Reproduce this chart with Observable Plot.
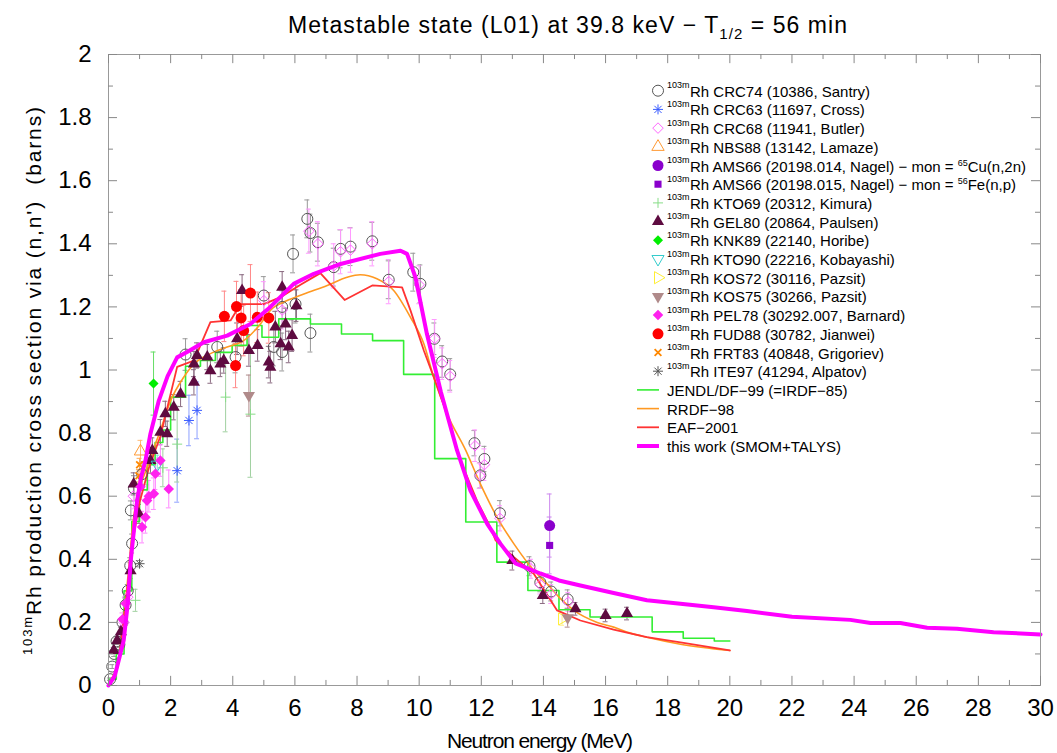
<!DOCTYPE html>
<html><head><meta charset="utf-8">
<script src="https://cdn.jsdelivr.net/npm/d3@7"></script>
<script src="https://cdn.jsdelivr.net/npm/@observablehq/plot@0.6"></script>
<style>body{margin:0;background:#fff}#chart{width:1057px;height:753px}</style>
</head><body><div id="chart"></div>
<script>
// ---- tick values ----
const xMajor = [0,2,4,6,8,10,12,14,16,18,20,22,24,26,28,30];
const xMinor = [1,3,5,7,9,11,13,15,17,19,21,23,25,27,29];
const yMajor = [0,0.2,0.4,0.6,0.8,1,1.2,1.4,1.6,1.8,2];
const yMinor = [0.1,0.3,0.5,0.7,0.9,1.1,1.3,1.5,1.7,1.9];

// ---- evaluated curves [E (MeV), sigma (b)] ----
const jendl = [[0,0.02],[0.25,0.1],[0.5,0.3],[0.75,0.52],[1.0,0.62],[1.25,0.7],[1.5,0.77],[1.75,0.81],[2.0,0.914],[2.48,1.012],[2.96,1.03],[3.44,1.056],[3.98,1.078],[4.46,1.141],[4.94,1.104],[5.48,1.162],[6.5,1.146],[7.5,1.114],[8.5,1.093],[9.5,0.986],[10.5,0.719],[11.5,0.518],[12.5,0.391],[13.5,0.301],[14.5,0.24],[15.5,0.217],[17.5,0.17],[18.5,0.15],[19.5,0.141],[20,0.141]];
const rrdf = [[0,0],[0.3,0.06],[0.6,0.32],[0.81,0.533],[1.24,0.692],[1.67,0.808],[2.0,0.903],[2.42,0.977],[2.75,1.019],[3.28,1.052],[3.82,1.073],[4.35,1.093],[4.89,1.146],[5.21,1.189],[5.75,1.22],[6.29,1.241],[7.04,1.268],[7.68,1.294],[8.1,1.302],[8.64,1.289],[9.18,1.252],[9.72,1.167],[10.15,1.083],[10.47,0.977],[10.9,0.861],[11.5,0.745],[11.97,0.639],[12.51,0.533],[13.05,0.449],[13.69,0.365],[14.12,0.322],[14.5,0.28],[14.98,0.238],[15.73,0.2],[16.26,0.185],[16.8,0.166],[17.33,0.153],[18.41,0.131],[20,0.111]];
const eaf = [[0,0],[0.3,0.06],[0.6,0.3],[0.8,0.47],[1.0,0.58],[1.3,0.69],[1.67,0.79],[2.21,1.01],[2.75,1.03],[3.28,1.152],[3.93,1.157],[4.25,1.209],[5.0,1.209],[5.54,1.231],[6.18,1.27],[6.82,1.307],[7.6,1.222],[8.49,1.268],[9.45,1.262],[9.72,1.189],[10.15,1.062],[10.47,0.977],[10.79,0.89],[11.33,0.713],[11.86,0.586],[12.29,0.502],[12.46,0.46],[13.05,0.407],[13.69,0.354],[14.44,0.238],[15.19,0.206],[16.26,0.177],[17.33,0.153],[18.41,0.137],[20,0.111]];
const thisWork = [[0,0],[0.2,0.03],[0.33,0.08],[0.49,0.143],[0.62,0.26],[0.72,0.4],[0.92,0.586],[1.05,0.66],[1.19,0.713],[1.35,0.798],[1.62,0.903],[1.9,0.98],[2.21,1.04],[2.53,1.057],[3.07,1.088],[3.82,1.109],[4.57,1.146],[5.21,1.2],[5.96,1.273],[6.61,1.305],[7.47,1.336],[8.75,1.368],[9.4,1.378],[9.61,1.368],[9.88,1.294],[10.25,1.114],[10.7,0.93],[11.22,0.745],[11.65,0.618],[12.19,0.512],[12.62,0.449],[13.1,0.387],[13.9,0.355],[14.5,0.333],[15.19,0.317],[16.26,0.293],[17.33,0.27],[18.41,0.259],[19.48,0.248],[20.55,0.236],[22,0.218],[23.88,0.208],[24.53,0.198],[25.49,0.198],[26.35,0.183],[27.31,0.18],[28.49,0.169],[30,0.162]];

// ---- experimental data [E, sigma, uncertainty] ----
const santry = [[0.05,0.02,0.004],[0.12,0.06,0.006],[0.18,0.1,0.008],[0.26,0.14,0.01],[0.35,0.13,0.01],[0.45,0.2,0.015],[0.55,0.255,0.02],[0.62,0.3,0.02],[0.7,0.38,0.025],[0.76,0.45,0.03],[0.72,0.555,0.03],[0.82,0.625,0.04],[1.08,0.67,0.04],[2.48,1.049,0.05],[3.5,1.073,0.05],[4.09,1.041,0.05],[5.0,1.236,0.06],[5.32,1.073,0.06],[5.59,1.057,0.06],[5.59,1.2,0.06],[6.02,1.209,0.06],[6.5,1.117,0.06],[5.94,1.368,0.06],[6.4,1.479,0.06],[6.5,1.434,0.06],[6.74,1.405,0.06],[7.25,1.326,0.06],[7.47,1.384,0.06],[7.79,1.391,0.06],[8.49,1.408,0.06],[9.02,1.286,0.06],[9.81,1.31,0.06],[10.04,1.273,0.06],[10.49,1.099,0.05],[10.74,1.027,0.05],[11.0,0.986,0.05],[11.78,0.768,0.04],[12.1,0.718,0.04],[11.97,0.666,0.04],[12.6,0.546,0.04],[13.55,0.378,0.03],[13.9,0.327,0.03],[14.25,0.298,0.03],[14.78,0.273,0.03]];
const cross = [[2.21,0.681,0.1],[2.59,0.84,0.08],[2.85,0.872,0.09]];
const butler = [[0.5,0.2,0.02],[0.62,0.28,0.02],[0.8,0.6,0.04],[5.0,1.22,0.06],[5.59,1.19,0.06],[6.45,1.44,0.07],[6.74,1.4,0.07],[7.25,1.33,0.07],[7.47,1.375,0.07],[7.79,1.38,0.07],[8.49,1.4,0.07],[9.02,1.28,0.07],[10.0,1.27,0.06],[10.5,1.1,0.06],[10.74,1.02,0.05],[11.0,0.98,0.05],[11.8,0.76,0.05],[12.1,0.7,0.05],[11.95,0.665,0.04],[12.6,0.53,0.04],[13.6,0.37,0.03],[13.9,0.32,0.03],[14.25,0.29,0.03],[14.8,0.265,0.03]];
const lamaze = [[1.03,0.742,0.035]];
const nagel014 = [[14.2,0.507,0.1]];
const nagel015 = [[14.2,0.444,0.09]];
const kimura = [[0.87,0.27,0.035],[1.75,0.69,0.06],[2.21,0.765,0.12],[3.77,0.914,0.11],[4.57,0.86,0.2]];
const paulsen = [[0.17,0.111,0.01],[0.28,0.143,0.012],[0.4,0.17,0.015],[0.71,0.364,0.025],[0.98,0.544,0.03],[0.81,0.639,0.035],[1.35,0.713,0.04],[1.41,0.745,0.04],[1.67,0.803,0.04],[1.83,0.861,0.04],[1.89,0.798,0.04],[2.1,0.882,0.04],[2.32,0.924,0.04],[2.75,0.961,0.04],[2.75,1.019,0.04],[2.85,1.046,0.04],[3.18,1.041,0.04],[3.28,0.998,0.04],[3.6,1.019,0.04],[3.71,1.03,0.04],[4.14,1.099,0.05],[4.3,1.252,0.05],[4.52,1.062,0.05],[4.8,1.078,0.05],[5.16,1.025,0.05],[5.21,1.009,0.05],[5.37,1.136,0.05],[5.54,1.083,0.05],[5.59,1.262,0.05],[5.7,1.146,0.05],[5.8,1.073,0.05],[5.91,1.109,0.05],[6.05,1.204,0.05],[13.0,0.396,0.03],[13.98,0.285,0.025],[15.03,0.243,0.02],[16.0,0.222,0.02],[16.69,0.228,0.02]];
const horibe = [[1.45,0.957,0.1]];
const kobayashi = [[1.57,0.7,0.03]];
const pazsit72 = [[14.6,0.211,0.02]];
const pazsit75 = [[4.52,0.919,0.065],[14.78,0.215,0.03]];
const barnard = [[0.45,0.21,0.02],[0.55,0.26,0.02],[1.08,0.502,0.05],[1.19,0.533,0.05],[1.24,0.586,0.05],[1.3,0.6,0.05],[1.46,0.608,0.05],[1.51,0.671,0.05],[1.67,0.713,0.05],[1.94,0.623,0.06],[1.03,0.63,0.04]];
const jianwei = [[3.73,1.17,0.08],[4.12,1.201,0.08],[4.27,1.165,0.09],[4.35,1.125,0.08],[4.57,1.244,0.09],[4.79,1.167,0.08],[5.16,1.165,0.08],[4.09,1.014,0.07]];
const grigoriev = [[1.0,0.7,0.02],[0.98,0.665,0.02]];
const alpatov = [[1.0,0.386,0.01]];

// ---- symbols ----
const s3 = Math.sqrt(3);
const symCircle = {draw(c,s){const r=Math.sqrt(s/Math.PI);c.moveTo(r,0);c.arc(0,0,r,0,2*Math.PI);}};
const symTriUp = {draw(c,s){const y=Math.sqrt(s/(3*s3));c.moveTo(0,-2*y);c.lineTo(-s3*y,y);c.lineTo(s3*y,y);c.closePath();}};
const symTriDown = {draw(c,s){const y=Math.sqrt(s/(3*s3));c.moveTo(0,2*y);c.lineTo(-s3*y,-y);c.lineTo(s3*y,-y);c.closePath();}};
const symTriRight = {draw(c,s){const y=Math.sqrt(s/(3*s3));c.moveTo(2*y,0);c.lineTo(-y,-s3*y);c.lineTo(-y,s3*y);c.closePath();}};
const symDiamond = {draw(c,s){const h=Math.sqrt(s/2);c.moveTo(0,-h);c.lineTo(h,0);c.lineTo(0,h);c.lineTo(-h,0);c.closePath();}};
const symSquare = {draw(c,s){const h=Math.sqrt(s)/2;c.rect(-h,-h,2*h,2*h);}};
const symPlus = {draw(c,s){const h=Math.sqrt(s/Math.PI);c.moveTo(-h,0);c.lineTo(h,0);c.moveTo(0,-h);c.lineTo(0,h);}};
const symTimes = {draw(c,s){const h=Math.sqrt(s/Math.PI)*0.75;c.moveTo(-h,-h);c.lineTo(h,h);c.moveTo(-h,h);c.lineTo(h,-h);}};
const symAster = {draw(c,s){const h=Math.sqrt(s/Math.PI),d=h*0.72;c.moveTo(-h,0);c.lineTo(h,0);c.moveTo(0,-h);c.lineTo(0,h);c.moveTo(-d,-d);c.lineTo(d,d);c.moveTo(-d,d);c.lineTo(d,-d);}};

const series = [
 {label:[["Rh CRC74 (10386, Santry)"]], data:santry, sym:symCircle, r:5.5, fill:"none", stroke:"#555", sw:1, err:"#999"},
 {label:[["Rh CRC63 (11697, Cross)"]], data:cross, sym:symAster, r:5, fill:"none", stroke:"#3a5cff", sw:1, err:"#8ea0ff"},
 {label:[["Rh CRC68 (11941, Butler)"]], data:butler, sym:symDiamond, r:4.2, fill:"none", stroke:"#ff66ff", sw:1, err:"#ff99ff"},
 {label:[["Rh NBS88 (13142, Lamaze)"]], data:lamaze, sym:symTriUp, r:4.6, fill:"none", stroke:"#ff9933", sw:1, err:"#ffbb77"},
 {label:[["Rh AMS66 (20198.014, Nagel) \u2212 mon = "],["65",1],["Cu(n,2n)"]], data:nagel014, sym:symCircle, r:5.5, fill:"#8a00cc", stroke:"none", sw:1, err:"#cc88ee"},
 {label:[["Rh AMS66 (20198.015, Nagel) \u2212 mon = "],["56",1],["Fe(n,p)"]], data:nagel015, sym:symSquare, r:4, fill:"#8a00cc", stroke:"none", sw:1, err:"#cc88ee"},
 {label:[["Rh KTO69 (20312, Kimura)"]], data:kimura, sym:symPlus, r:5, fill:"none", stroke:"#88dd88", sw:1, err:"#a0d0a0"},
 {label:[["Rh GEL80 (20864, Paulsen)"]], data:paulsen, sym:symTriUp, r:4.5, fill:"#5e0b40", stroke:"none", sw:1, err:"#8a6a80"},
 {label:[["Rh KNK89 (22140, Horibe)"]], data:horibe, sym:symDiamond, r:4, fill:"#00ee00", stroke:"none", sw:1, err:"#66dd66"},
 {label:[["Rh KTO90 (22216, Kobayashi)"]], data:kobayashi, sym:symTriDown, r:4.5, fill:"none", stroke:"#33cccc", sw:1, err:"#88dddd"},
 {label:[["Rh KOS72 (30116, Pazsit)"]], data:pazsit72, sym:symTriRight, r:4.5, fill:"none", stroke:"#ffee33", sw:1, err:"#ffee88"},
 {label:[["Rh KOS75 (30266, Pazsit)"]], data:pazsit75, sym:symTriDown, r:4.5, fill:"#b08a8a", stroke:"none", sw:1, err:"#b08a8a"},
 {label:[["Rh PEL78 (30292.007, Barnard)"]], data:barnard, sym:symDiamond, r:4.2, fill:"#ff22ee", stroke:"none", sw:1, err:"#ff88ff"},
 {label:[["Rh FUD88 (30782, Jianwei)"]], data:jianwei, sym:symCircle, r:5.5, fill:"#ff0000", stroke:"none", sw:1, err:"#ff8888"},
 {label:[["Rh FRT83 (40848, Grigoriev)"]], data:grigoriev, sym:symTimes, r:4.5, fill:"none", stroke:"#ff8800", sw:1.8, err:"#ffaa55"},
 {label:[["Rh ITE97 (41294, Alpatov)"]], data:alpatov, sym:symAster, r:5, fill:"none", stroke:"#555", sw:1, err:"#999"}
];
const curves = [
 {label:"JENDL/DF\u221299 (=IRDF\u221285)", data:jendl, stroke:"#33ee33", sw:1.6, curve:"step-after"},
 {label:"RRDF\u221298", data:rrdf, stroke:"#ff9922", sw:1.6, curve:"monotone-x"},
 {label:"EAF\u22122001", data:eaf, stroke:"#ff3333", sw:1.8, curve:"linear"},
 {label:"this work (SMOM+TALYS)", data:thisWork, stroke:"#ff00ff", sw:4, curve:"linear"}
];

const X = d=>d[0], Y = d=>d[1];
const marks = [];
for (const s of series) {
  marks.push(Plot.ruleX(s.data, {x:X, y1:d=>d[1]-d[2], y2:d=>d[1]+d[2], stroke:s.err, strokeWidth:1}));
  marks.push(Plot.ruleY(s.data, {y:d=>d[1]+d[2], x1:d=>d[0]-0.08, x2:d=>d[0]+0.08, stroke:s.err, strokeWidth:1}));
  marks.push(Plot.ruleY(s.data, {y:d=>d[1]-d[2], x1:d=>d[0]-0.08, x2:d=>d[0]+0.08, stroke:s.err, strokeWidth:1}));
}
for (const c of curves.slice(0,3)) marks.push(Plot.line(c.data, {x:X, y:Y, stroke:c.stroke, strokeWidth:c.sw, curve:c.curve}));
for (const s of series) marks.push(Plot.dot(s.data, {x:X, y:Y, symbol:s.sym, r:s.r, fill:s.fill, stroke:s.stroke, strokeWidth:s.sw}));
marks.push(Plot.line(curves[3].data, {x:X, y:Y, stroke:curves[3].stroke, strokeWidth:curves[3].sw, curve:curves[3].curve}));

const tc = "#888";
marks.push(
  Plot.frame({stroke:"#999", strokeWidth:1}),
  Plot.ruleX(xMajor, {x:d=>d, y1:0, y2:0.029, stroke:tc}),
  Plot.ruleX(xMajor, {x:d=>d, y1:2, y2:2-0.029, stroke:tc}),
  Plot.ruleX(xMinor, {x:d=>d, y1:0, y2:0.016, stroke:tc}),
  Plot.ruleX(xMinor, {x:d=>d, y1:2, y2:2-0.016, stroke:tc}),
  Plot.ruleY(yMajor, {y:d=>d, x1:0, x2:0.29, stroke:tc}),
  Plot.ruleY(yMajor, {y:d=>d, x1:30, x2:30-0.29, stroke:tc}),
  Plot.ruleY(yMinor, {y:d=>d, x1:0, x2:0.16, stroke:tc}),
  Plot.ruleY(yMinor, {y:d=>d, x1:30, x2:30-0.16, stroke:tc}),
  Plot.axisX(xMajor, {tickSize:0, tickPadding:13, fontSize:24, label:null, tickFormat:d=>String(d)}),
  Plot.axisY(yMajor, {tickSize:0, tickPadding:17, fontSize:24, label:null, tickFormat:d=>String(+d.toFixed(1))})
);

const FF = "'Liberation Sans', Arial, Helvetica, sans-serif";
const svgEl = Plot.plot({
  width:1057, height:753,
  marginLeft:108, marginRight:17, marginTop:54, marginBottom:68,
  x:{domain:[0,30]}, y:{domain:[0,2]},
  style:{fontFamily:FF, fontSize:"24px", color:"#000", background:"#fff", overflow:"visible"},
  marks
});
document.getElementById("chart").appendChild(svgEl);

const svg = d3.select(svgEl);
// title
const t = svg.append("text").attr("x",288).attr("y",33).attr("text-anchor","start")
  .attr("textLength",559).attr("lengthAdjust","spacing")
  .style("font-family",FF).style("font-size","23px").attr("fill","#000");
t.append("tspan").text("Metastable state (L01) at 39.8 keV \u2212 T");
t.append("tspan").attr("dy",6).style("font-size","15px").text("1/2");
t.append("tspan").attr("dy",-6).text(" = 56 min");
// x label
svg.append("text").attr("x",447).attr("y",748).attr("text-anchor","start")
  .attr("textLength",186).attr("lengthAdjust","spacing")
  .style("font-family",FF).style("font-size","21px").attr("fill","#000").text("Neutron energy (MeV)");
// y label
const yl = svg.append("text").attr("transform","translate(41,655) rotate(-90)").attr("text-anchor","start")
  .attr("textLength",548).attr("lengthAdjust","spacing")
  .style("font-family",FF).style("font-size","21px").style("white-space","pre").attr("fill","#000");
yl.append("tspan").attr("dy",-9).style("font-size","13px").text("103m");
yl.append("tspan").attr("dy",9).text("Rh production cross section via (n,n')  (barns)");

// legend
const lg = svg.append("g").style("font-family",FF).attr("text-anchor","start");
const row0 = 90.7, dRow = 18.7, symX = 658, txtX = 690;
series.forEach((s,i)=>{
  const y = row0 + dRow*i;
  lg.append("path").attr("transform",`translate(${symX},${y})`)
    .attr("d", d3.symbol(s.sym, s.r*s.r*Math.PI)())
    .attr("fill", s.fill).attr("stroke", s.stroke).attr("stroke-width", s.sw);
  lg.append("text").attr("x",667).attr("y",y-2.5).attr("text-anchor","start").style("font-size","9px").attr("fill","#000").text("103m");
  const tx = lg.append("text").attr("x",txtX).attr("y",y+6).attr("text-anchor","start").style("font-size","15px").attr("fill","#000");
  s.label.forEach(([txt,sup],k)=>{
    if (sup) tx.append("tspan").attr("dy",-6).style("font-size","9px").text(txt);
    else tx.append("tspan").attr("dy", k ? 6 : 0).text(txt);
  });
});
curves.forEach((c,i)=>{
  const y = row0 + dRow*(series.length+i);
  lg.append("line").attr("x1",637).attr("x2",659).attr("y1",y).attr("y2",y)
    .attr("stroke",c.stroke).attr("stroke-width",c.sw);
  lg.append("text").attr("x",667).attr("y",y+6).attr("text-anchor","start").style("font-size","15px").attr("fill","#000").text(c.label);
});
</script></body></html>
